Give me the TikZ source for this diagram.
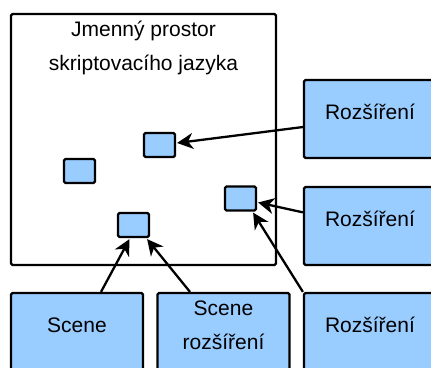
\documentclass[tikz,border=0pt]{standalone}
\usepackage{fontspec}
\setmainfont{Liberation Sans}
\usetikzlibrary{arrows.meta,calc}
\definecolor{boxblue}{RGB}{153,204,255}
\begin{document}
\begin{tikzpicture}[x=1pt,y=-1pt,
  every node/.style={font=\fontsize{21}{34}\selectfont},
  frame/.style={draw=black, line width=2.2pt, rounded corners=1.5pt},
  item/.style={frame, fill=boxblue, minimum width=31pt, minimum height=24pt, inner sep=0pt},
  module/.style={frame, fill=boxblue, minimum width=132pt, minimum height=78pt, inner sep=0pt},
  caption/.style={align=center, yshift=7pt},
  arr/.style={line width=2.3pt, -{Stealth[length=16pt,width=16pt,inset=5pt]}}]
\useasboundingbox (0,0) rectangle (431,367);

% namespace frame and its title
\node[frame, minimum width=265pt, minimum height=251pt, inner sep=0pt] (ns) at (143.5,139.5) {};
\node[align=center] (title) at (143.5,48) {Jmenný prostor\\skriptovacího jazyka};

% objects inside the namespace
\node[item] (A) at (159.5,145) {};
\node[item] (B) at (79.5,171) {};
\node[item] (C) at (240.5,198.5) {};
\node[item] (D) at (133.5,225) {};

% modules around it
\node[module, label={[caption]center:Rozšíření}] (R1) at (370,119) {};
\node[module, label={[caption]center:Rozšíření}] (R2) at (370,226) {};
\node[module, label={[caption]center:Rozšíření}] (R3) at (370,332) {};
\node[module, label={[caption]center:Scene}] (Sc) at (77,332) {};
\node[module, label={[caption]center:Scene\\rozšíření}] (SE) at (223.5,332) {};

% references into the namespace
\draw[arr] ($(R1.north west)!0.6!(R1.south west)$) -- ([shift={(1,-2)}]A.east);
\draw[arr] ($(R2.north west)!0.33!(R2.south west)$) -- ([shift={(1,4)}]C.east);
\draw[arr] (R3.north west) -- ([shift={(-4,1)}]C.south east);
\draw[arr] ([shift={(24,0)}]Sc.north) -- ([shift={(-4,1)}]D.south);
\draw[arr] ([shift={(-33.5,0)}]SE.north) -- ([shift={(-3,1)}]D.south east);
\end{tikzpicture}
\end{document}
